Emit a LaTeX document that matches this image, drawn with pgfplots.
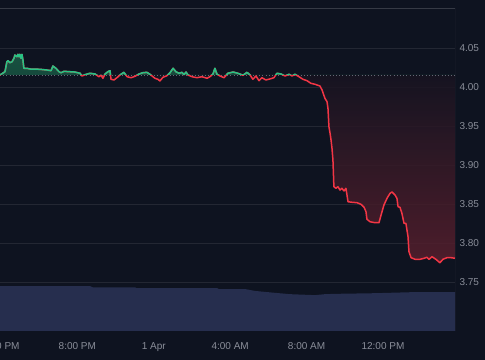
\documentclass[border=0pt]{standalone}
\usepackage{pgfplots}
\usepackage{pgfplotstable}
\pgfplotsset{compat=1.18}
\usetikzlibrary{backgrounds}
\usepackage{fontspec}
\setmainfont{Liberation Sans}
\definecolor{bg}{RGB}{14,19,32}
\definecolor{gridc}{RGB}{35,39,51}
\definecolor{borderc}{RGB}{54,58,69}
\definecolor{txt}{RGB}{138,142,153}
\definecolor{vol}{RGB}{38,46,78}
\definecolor{upc}{RGB}{38,196,133}
\definecolor{downc}{RGB}{242,54,69}
\definecolor{gtop}{RGB}{24,88,68}
\definecolor{rtop}{RGB}{16,19,32}
\definecolor{rbot}{RGB}{88,31,45}
\definecolor{dotc}{RGB}{100,104,116}

\pgfplotstableread{
h v
-0.05 4.0154
0.21 4.0196
0.31 4.0324
0.37 4.0337
0.47 4.0312
0.58 4.0324
0.68 4.0368
0.73 4.0410
0.84 4.0388
0.89 4.0419
0.94 4.0388
0.99 4.0419
1.05 4.0368
1.10 4.0419
1.15 4.0346
1.20 4.0240
1.36 4.0240
1.52 4.0231
2.04 4.0227
2.41 4.0218
2.62 4.0209
2.72 4.0269
2.88 4.0240
3.04 4.0196
3.14 4.0183
3.30 4.0201
3.61 4.0196
3.87 4.0192
4.14 4.0176
4.24 4.0141
4.40 4.0158
4.66 4.0176
4.92 4.0167
5.13 4.0132
5.24 4.0150
5.34 4.0112
5.45 4.0167
5.60 4.0196
5.71 4.0209
5.76 4.0099
5.92 4.0090
6.07 4.0119
6.28 4.0163
6.44 4.0188
6.60 4.0132
6.81 4.0119
7.02 4.0137
7.23 4.0167
7.43 4.0183
7.64 4.0188
7.80 4.0163
8.06 4.0112
8.22 4.0099
8.32 4.0077
8.48 4.0124
8.69 4.0145
8.85 4.0183
9.01 4.0240
9.16 4.0196
9.32 4.0176
9.48 4.0188
9.58 4.0158
9.69 4.0192
9.79 4.0154
10.00 4.0132
10.26 4.0119
10.52 4.0132
10.79 4.0112
10.94 4.0132
11.10 4.0167
11.20 4.0240
11.31 4.0163
11.47 4.0141
11.68 4.0119
11.88 4.0176
12.15 4.0192
12.41 4.0176
12.67 4.0150
12.88 4.0188
13.04 4.0154
13.19 4.0099
13.35 4.0141
13.51 4.0081
13.66 4.0119
13.87 4.0090
14.08 4.0103
14.29 4.0119
14.45 4.0176
14.66 4.0167
14.87 4.0141
15.08 4.0163
15.24 4.0141
15.39 4.0163
15.60 4.0132
15.81 4.0099
16.02 4.0081
16.23 4.0047
16.44 4.0035
16.70 4.0013
16.81 3.9962
16.96 3.9855
17.07 3.9812
17.12 3.9727
17.17 3.9491
17.23 3.9406
17.28 3.9321
17.33 3.9214
17.38 3.9064
17.43 3.8722
17.54 3.8701
17.64 3.8722
17.75 3.8679
17.85 3.8701
17.96 3.8667
18.06 3.8701
18.17 3.8529
18.38 3.8522
18.64 3.8517
18.85 3.8496
19.01 3.8458
19.11 3.8401
19.16 3.8304
19.32 3.8273
19.58 3.8260
19.79 3.8260
19.90 3.8359
20.05 3.8487
20.21 3.8573
20.37 3.8637
20.47 3.8654
20.63 3.8615
20.73 3.8573
20.79 3.8465
20.89 3.8458
20.99 3.8381
21.10 3.8253
21.20 3.8253
21.31 3.8081
21.36 3.7888
21.47 3.7812
21.68 3.7791
21.94 3.7791
22.15 3.7804
22.30 3.7817
22.41 3.7791
22.57 3.7824
22.77 3.7791
22.98 3.7747
23.14 3.7791
23.35 3.7812
23.56 3.7812
23.77 3.7804
}\pricedata

\pgfplotstableread{
h vol
-0.05 13.9
4.66 13.9
4.82 13.5
7.02 13.5
7.10 13.3
11.31 13.3
11.40 13.0
12.77 13.0
13.30 12.4
14.19 11.9
15.13 11.4
16.44 11.1
16.96 11.4
17.49 11.5
19.58 11.7
21.41 12.0
23.77 12.0
}\voldata

\begin{document}
\begin{tikzpicture}[background rectangle/.style={fill=bg, draw=none}, show background rectangle, inner frame sep=0pt]
% price pane
\begin{axis}[name=main, scale only axis,
  width=455pt, height=323pt,
  xmin=-0.05, xmax=23.77, ymin=3.6872, ymax=4.1013,
  axis line style={draw=none},
  xtick={0,4,8,12,16,20},
  xticklabels={4:00 PM,8:00 PM,1 Apr,4:00 AM,8:00 AM,12:00 PM},
  ytick={3.75,3.80,3.85,3.90,3.95,4.00,4.05},
  yticklabel pos=right,
  scaled y ticks=false,
  /pgf/number format/assume math mode=true,
  yticklabel style={/pgf/number format/fixed, /pgf/number format/fixed zerofill,
    /pgf/number format/precision=2, anchor=west, xshift=1pt},
  xticklabel style={yshift=-8pt},
  major tick length=0pt,
  ymajorgrids, grid style={gridc, line width=0.9pt},
  tick label style={font=\fontsize{10}{12}\selectfont, text=txt},
  clip=true]
\begin{scope}
\clip (axis cs:-0.05,3.6) rectangle (axis cs:23.77,4.0154);
\addplot[draw=none, top color=rtop, bottom color=rbot, fill opacity=0.85] table[x=h,y=v] {\pricedata} -- (axis cs:23.77,4.0154) -- (axis cs:-0.05,4.0154) -- cycle;
\end{scope}
\begin{scope}
\clip (axis cs:-0.05,4.0154) rectangle (axis cs:23.77,4.1);
\addplot[draw=none, top color=gtop, bottom color=bg, fill opacity=0.9] table[x=h,y=v] {\pricedata} -- (axis cs:23.77,4.0154) -- (axis cs:-0.05,4.0154) -- cycle;
\end{scope}
\addplot[dotc, line width=0.9pt, dash pattern=on 1pt off 2.2pt] coordinates {(-0.05,4.0154) (23.77,4.0154)};
\addplot[downc, line width=1.5pt, line join=round] table[x=h,y=v] {\pricedata};
\begin{scope}
\clip (axis cs:-0.05,4.0154) rectangle (axis cs:23.77,4.1);
\addplot[upc, line width=1.5pt, line join=round] table[x=h,y=v] {\pricedata};
\end{scope}
\draw[borderc, line width=0.9pt] (rel axis cs:0,1) -- (rel axis cs:1,1) -- (rel axis cs:1,0);
\end{axis}
% volume pane
\begin{axis}[at={(main.south west)}, anchor=south west, scale only axis,
  width=455pt, height=323pt,
  xmin=-0.05, xmax=23.77, ymin=0, ymax=100, hide axis]
\addplot[draw=none, fill=vol] table[x=h,y=vol] {\voldata} \closedcycle;
\end{axis}
\pgfresetboundingbox
\useasboundingbox ([yshift=-29pt]main.south west) rectangle ([xshift=30pt,yshift=8pt]main.north east);
\end{tikzpicture}
\end{document}
